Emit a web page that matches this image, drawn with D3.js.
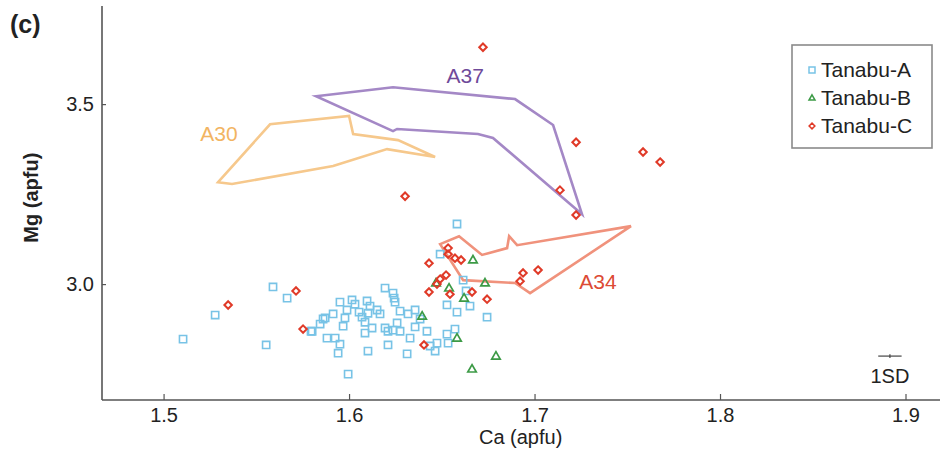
<!DOCTYPE html>
<html>
<head>
<meta charset="utf-8">
<script src="https://cdn.jsdelivr.net/npm/d3@7"></script>
<style>
  body { margin: 0; background: #fff; }
  svg text { font-family: "Liberation Sans", Arial, sans-serif; fill: #222; }
</style>
</head>
<body>
<svg id="chart" width="944" height="453"></svg>
<script>
// Ca vs Mg (apfu) for the three Tanabu sample groups
const tanabuA = [
  [1.5105,2.847],[1.5278,2.914],[1.5590,2.992],[1.5666,2.961],[1.5553,2.831],[1.5795,2.869],
  [1.6194,2.989],[1.6237,2.975],[1.6243,2.961],[1.6248,2.950],[1.5951,2.950],[1.6032,2.944],
  [1.6097,2.953],[1.6113,2.939],[1.5989,2.928],[1.6054,2.922],[1.6102,2.919],[1.6151,2.928],
  [1.6167,2.917],[1.5914,2.917],[1.5871,2.906],[1.5978,2.906],[1.6275,2.925],[1.6318,2.917],
  [1.6356,2.928],[1.6528,2.942],[1.6582,2.922],[1.5844,2.889],[1.5801,2.869],[1.5968,2.883],
  [1.6086,2.894],[1.6194,2.878],[1.6210,2.869],[1.6237,2.872],[1.6275,2.869],[1.6356,2.881],
  [1.6420,2.869],[1.6528,2.861],[1.6571,2.875],[1.5881,2.850],[1.5925,2.850],[1.6086,2.864],
  [1.6329,2.850],[1.6474,2.836],[1.6534,2.836],[1.5951,2.833],[1.5941,2.808],[1.6102,2.814],
  [1.6210,2.831],[1.6313,2.806],[1.6464,2.814],[1.5995,2.750],[1.6582,3.167],[1.6491,3.083],
  [1.6615,3.011],[1.6631,2.981],[1.6652,2.939],[1.6744,2.908],[1.6016,2.956],[1.6070,2.908],
  [1.6124,2.878],[1.6259,2.892],[1.6383,2.903],[1.6437,2.828],[1.5860,2.903]
];
const tanabuB = [
  [1.6668,3.067],[1.6733,3.003],[1.6539,2.989],[1.6620,2.961],[1.6394,2.911],
  [1.6582,2.850],[1.6792,2.800],[1.6663,2.764],[1.6469,3.003]
];
const tanabuC = [
  [1.6722,3.658],[1.7224,3.394],[1.7585,3.367],[1.7677,3.339],[1.7137,3.261],[1.7224,3.192],
  [1.6302,3.244],[1.6534,3.100],[1.6534,3.083],[1.6571,3.072],[1.6604,3.067],[1.6431,3.058],
  [1.6523,3.025],[1.6491,3.014],[1.6474,3.000],[1.6431,2.978],[1.6544,2.972],[1.6663,2.978],
  [1.6744,2.958],[1.6404,2.831],[1.6938,3.031],[1.7019,3.039],[1.6922,3.008],[1.5348,2.942],
  [1.5714,2.981],[1.5752,2.875]
];

// Outlines of the reference fields
const fieldA30 = [
  [1.5294,3.283],[1.5574,3.444],[1.6000,3.467],[1.6022,3.417],[1.6264,3.400],
  [1.6464,3.353],[1.6205,3.375],[1.5914,3.328],[1.5369,3.278]
];
const fieldA37 = [
  [1.5822,3.522],[1.6237,3.547],[1.6895,3.514],[1.7100,3.442],[1.7256,3.194],
  [1.6776,3.406],[1.6695,3.417],[1.6259,3.431],[1.6237,3.425]
];
const fieldA34 = [
  [1.6491,3.111],[1.6593,3.133],[1.6717,3.081],[1.6852,3.100],[1.6863,3.133],
  [1.6906,3.108],[1.7520,3.161],[1.6976,2.975],[1.6895,3.003],[1.6615,3.011]
];
const fieldNames = ["A30", "A37", "A34"];
const fieldLabelPos = [[1.5299,3.417],[1.6626,3.578],[1.7342,3.006]];

const xTicks = [1.5, 1.6, 1.7, 1.8, 1.9];
const yTicks = [3.0, 3.5];
const seriesNames = ["Tanabu-A", "Tanabu-B", "Tanabu-C"];

// 1SD error bar shown in the lower-right corner
const sdCentre = [1.8916, 2.800];
const sdCa = 0.0063;
const sdMg = 0.005;

const svg = d3.select("#chart");
const x = d3.scaleLinear().domain([1.4668, 1.9186]).range([102, 940]);
const y = d3.scaleLinear().domain([2.678, 3.767]).range([400, 8]);

const fieldColor = { A30: "#f6c88c", A37: "#a488c6", A34: "#f0927c" };
const fieldTextColor = { A30: "#f2b462", A37: "#6f4a9a", A34: "#dc4a35" };

// Field outlines
const outline = d3.line().x(d => x(d[0])).y(d => y(d[1])).curve(d3.curveLinearClosed);
[fieldA30, fieldA37, fieldA34].forEach((pts, i) => {
  svg.append("path")
    .attr("d", outline(pts))
    .attr("fill", "none")
    .attr("stroke", fieldColor[fieldNames[i]])
    .attr("stroke-width", 2.6)
    .attr("stroke-linejoin", "miter");
});
fieldNames.forEach((n, i) => {
  svg.append("text")
    .attr("x", x(fieldLabelPos[i][0]))
    .attr("y", y(fieldLabelPos[i][1]))
    .attr("dy", "0.35em")
    .attr("text-anchor", "middle")
    .attr("font-size", 21)
    .style("fill", fieldTextColor[n])
    .text(n);
});

// Axes
const xAxis = d3.axisBottom(x).tickValues(xTicks).tickFormat(d3.format(".1f"))
  .tickSizeInner(-6).tickSizeOuter(0).tickPadding(8);
const yAxis = d3.axisLeft(y).tickValues(yTicks).tickFormat(d3.format(".1f"))
  .tickSizeInner(-4).tickSizeOuter(0).tickPadding(8);

const gx = svg.append("g").attr("transform", "translate(0,400)").call(xAxis);
const gy = svg.append("g").attr("transform", "translate(102,0)").call(yAxis);
[gx, gy].forEach(g => {
  g.select(".domain").attr("stroke", "#555").attr("stroke-width", 1.6);
  g.selectAll(".tick line").attr("stroke", "#555").attr("stroke-width", 1.2);
  g.selectAll(".tick text").attr("font-size", 20).style("fill", "#222")
    .attr("font-family", "Liberation Sans, Arial, sans-serif");
});
// extend the axis lines to the full frame
gx.select(".domain").attr("d", `M${x.range()[0]},0H${x.range()[1]}`);
gy.select(".domain").attr("d", `M0,${y.range()[1] - 2}V${y.range()[0]}`);

svg.append("text").attr("x", x(1.6925)).attr("y", 444)
  .attr("text-anchor", "middle").attr("font-size", 20).text("Ca (apfu)");
svg.append("text").attr("transform", `translate(38,${y(3.24)}) rotate(-90)`)
  .attr("text-anchor", "middle").attr("font-size", 20).attr("font-weight", "bold")
  .text("Mg (apfu)");
svg.append("text").attr("x", 10).attr("y", 33).attr("font-size", 25)
  .attr("font-weight", "bold").text("(c)");

// Markers
const markerStyle = [
  { color: "#78c3e6", shape: "square", size: 7.2, sw: 1.6 },
  { color: "#3c9a46", shape: "triangle", size: 8.5, sw: 1.7 },
  { color: "#e03a28", shape: "diamond", size: 5.2, sw: 2.0 }
];
function markerPath(shape, s) {
  const h = s / 2;
  if (shape === "square") return `M${-h},${-h}H${h}V${h}H${-h}Z`;
  if (shape === "triangle") { const t = s * 0.87; return `M0,${-t * 0.6}L${h},${t * 0.4}L${-h},${t * 0.4}Z`; }
  const d = s * 0.72; return `M0,${-d}L${d},0L0,${d}L${-d},0Z`;
}
[tanabuA, tanabuB, tanabuC].forEach((data, i) => {
  const st = markerStyle[i];
  svg.append("g").selectAll("path").data(data).join("path")
    .attr("transform", d => `translate(${x(d[0])},${y(d[1])})`)
    .attr("d", markerPath(st.shape, st.size))
    .attr("fill", "none")
    .attr("stroke", st.color)
    .attr("stroke-width", st.sw);
});

// 1SD bar
const sd = svg.append("g").attr("stroke", "#444").attr("stroke-width", 1.2);
sd.append("line").attr("x1", x(sdCentre[0] - sdCa)).attr("x2", x(sdCentre[0] + sdCa))
  .attr("y1", y(sdCentre[1])).attr("y2", y(sdCentre[1]));
sd.append("line").attr("x1", x(sdCentre[0])).attr("x2", x(sdCentre[0]))
  .attr("y1", y(sdCentre[1] - sdMg)).attr("y2", y(sdCentre[1] + sdMg));
svg.append("text").attr("x", x(sdCentre[0])).attr("y", 383)
  .attr("text-anchor", "middle").attr("font-size", 20).text("1SD");

// Legend
const lg = svg.append("g").attr("transform", "translate(792,45)");
lg.append("rect").attr("width", 140).attr("height", 103)
  .attr("fill", "#fff").attr("stroke", "#8a8a8a").attr("stroke-width", 1.6);
seriesNames.forEach((n, i) => {
  const st = markerStyle[i];
  const row = lg.append("g").attr("transform", `translate(20,${25 + i * 28})`);
  row.append("path").attr("d", markerPath(st.shape, st.shape === "diamond" ? 4 : 6))
    .attr("fill", "none").attr("stroke", st.color).attr("stroke-width", 1.5);
  row.append("text").attr("x", 9).attr("dy", "0.35em").attr("font-size", 21).text(n);
});
</script>
</body>
</html>
